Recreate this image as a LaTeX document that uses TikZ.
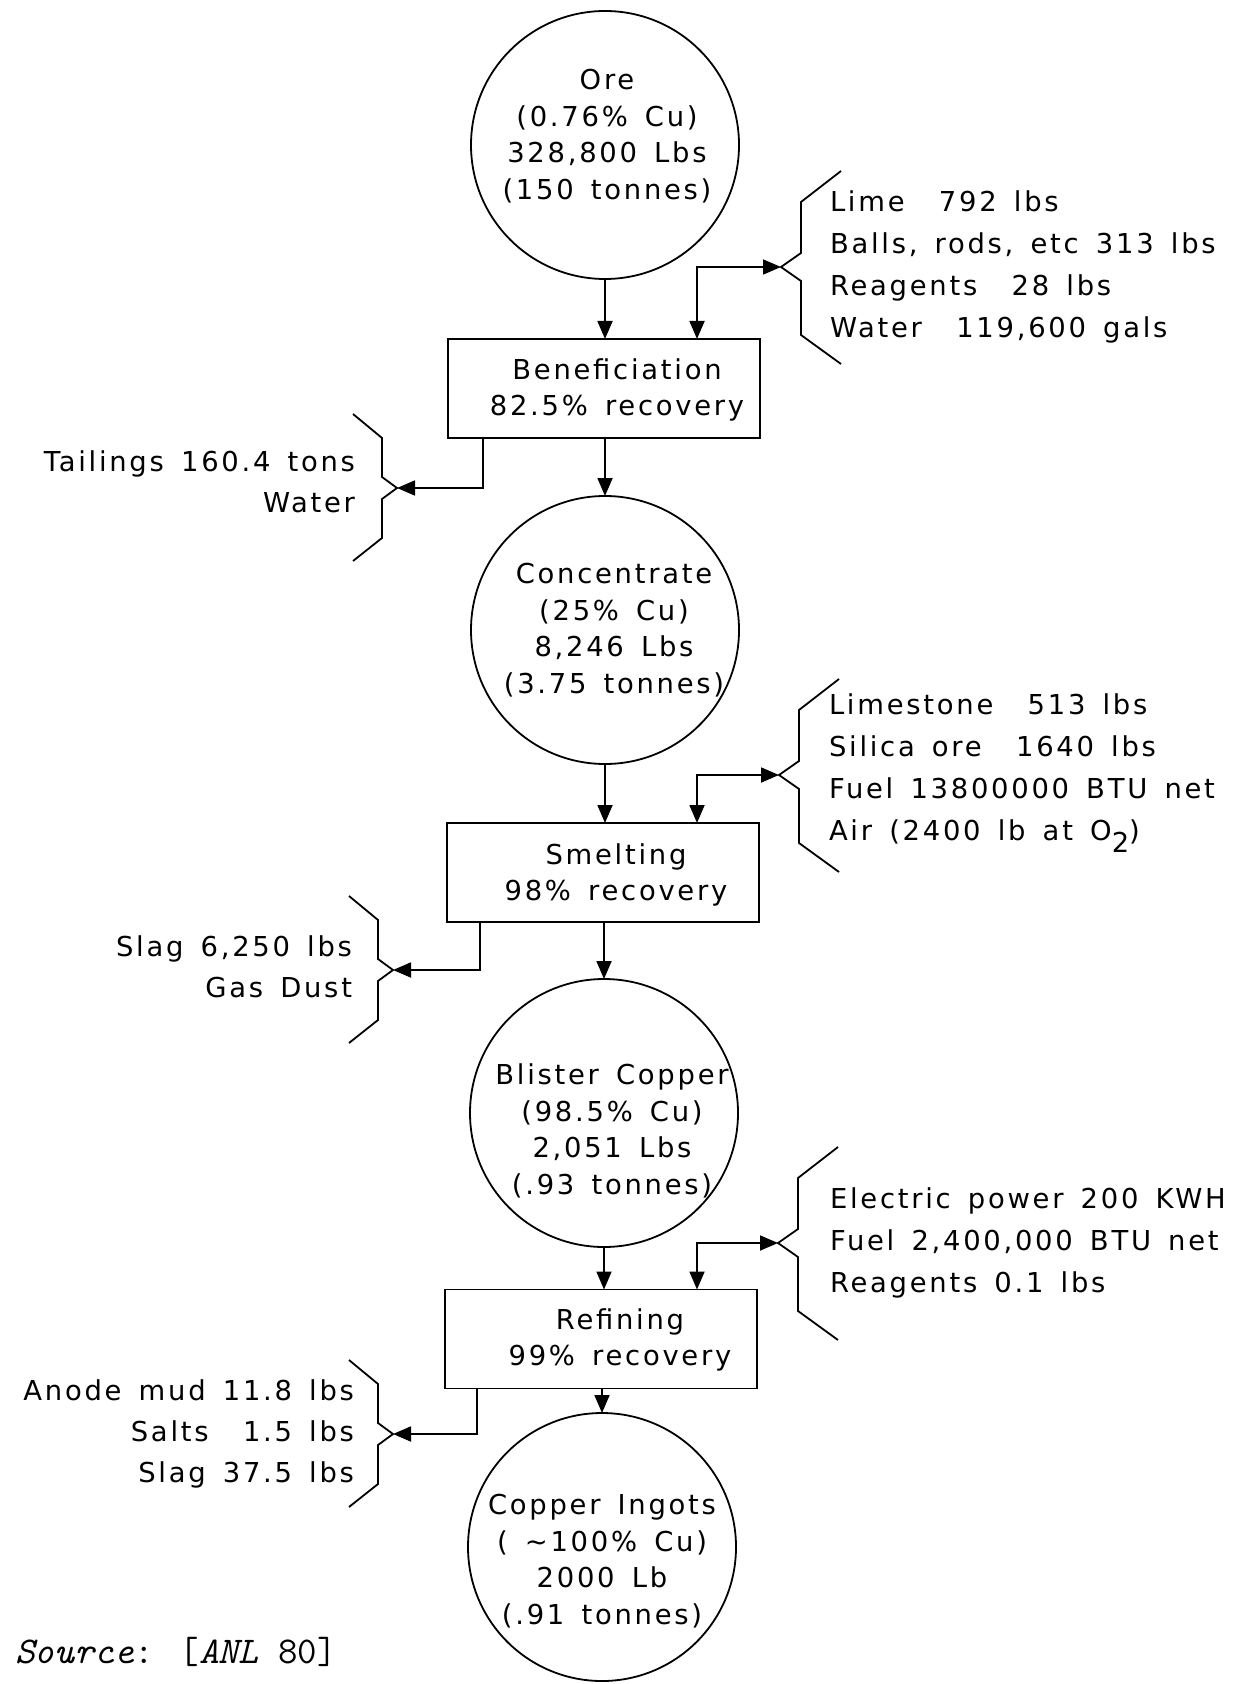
\documentclass[tikz,border=0pt]{standalone}
\usepackage{fontspec}
\newfontfamily\plot[LetterSpace=10,WordSpace=1.5]{DejaVu Sans}
\usetikzlibrary{arrows.meta,calc}
\begin{document}
\begin{tikzpicture}[x=0.5pt,y=-0.5pt,
  every node/.style={inner sep=0pt,outer sep=0pt},
  ln/.style={line width=0.9pt},
  arr/.style={ln,-{Triangle[length=9pt,width=7.5pt]}},
  darr/.style={ln,{Triangle[length=9pt,width=7.5pt]}-{Triangle[length=9pt,width=7.5pt]}},
  proc/.style={draw,ln,rectangle,minimum width=156pt,minimum height=49.5pt},
  stock/.style={draw,ln,circle,minimum size=134pt},
  ctxt/.style={font=\plot\fontsize{13.7}{18.35}\selectfont,align=center},
  btxt/.style={font=\plot\fontsize{13.7}{17.75}\selectfont,align=center},
  rtxt/.style={font=\plot\fontsize{13.7}{21}\selectfont,align=left,anchor=west},
  ltxt/.style={font=\plot\fontsize{13.7}{20.5}\selectfont,align=right,anchor=east},
  rbrace/.pic={\draw[ln] (60,-96) -- (20,-65) -- (20,-14) -- (0,0) -- (20,14) -- (20,68) -- (60,97);},
  lbrace/.pic={\draw[ln] (-44,-74) -- (-15,-50) -- (-15,-11) -- (0,0) -- (-15,11) -- (-15,50) -- (-44,73);}
]
\useasboundingbox (0,0) rectangle (1238,1684);

% main column
\node[stock] (ore) at (605,145) {};
\node[ctxt] (oret) at (607,136) {Ore\\(0.76\% Cu)\\328,800 Lbs\\(150 tonnes)};
\node[proc] (ben) at (604,388.5) {};
\node[btxt] (bent) at (617,390) {Beneficiation\\82.5\% recovery};
\node[stock] (conc) at (605,630) {};
\node[ctxt] (conct) at (614,630) {Concentrate\\(25\% Cu)\\8,246 Lbs\\(3.75 tonnes)};
\node[proc] (sme) at (603,872.5) {};
\node[btxt] (smet) at (616,875) {Smelting\\98\% recovery};
\node[stock] (bli) at (604,1113) {};
\node[ctxt] (blit) at (612,1131) {Blister Copper\\(98.5\% Cu)\\2,051 Lbs\\(.93 tonnes)};
\node[proc] (ref) at (601,1339) {};
\node[btxt] (reft) at (620,1340) {Refining\\99\% recovery};
\node[stock] (ing) at (602,1547) {};
\node[ctxt] (ingt) at (602,1561) {Copper Ingots\\( \textasciitilde100\% Cu)\\2000 Lb\\(.91 tonnes)};

\draw[arr] (ore.south) -- (ore.south |- ben.north);
\draw[arr] (conc.north |- ben.south) -- (conc.north);
\draw[arr] (conc.south) -- (conc.south |- sme.north);
\draw[arr] (bli.north |- sme.south) -- (bli.north);
\draw[arr] (bli.south) -- (bli.south |- ref.north);
\draw[arr] (ing.north |- ref.south) -- (ing.north);

% inputs
\coordinate (tipA) at (781,267);
\coordinate (tipB) at (779,775);
\coordinate (tipC) at (778,1243);
\coordinate (colIn) at (697,0);
\pic at (tipA) {rbrace};
\pic at (tipB) {rbrace};
\pic at (tipC) {rbrace};
\draw[darr] (tipA) -| (ben.north -| colIn);
\draw[darr] (tipB) -| (sme.north -| colIn);
\draw[darr] (tipC) -| (ref.north -| colIn);
\node[rtxt] (inA) at (830,267) {Lime~~792 lbs\\Balls, rods, etc 313 lbs\\Reagents~~28 lbs\\Water~~119,600 gals};
\node[rtxt] (inB) at (829,773) {Limestone~~513 lbs\\Silica ore~~1640 lbs\\Fuel 13800000 BTU net\\Air (2400 lb at O\raisebox{-6pt}{2})};
\node[rtxt] (inC) at (830,1243) {Electric power 200 KWH\\Fuel 2,400,000 BTU net\\Reagents 0.1 lbs};

% outputs
\coordinate (outA) at (397,488);
\coordinate (outB) at (393,970);
\coordinate (outC) at (393,1434);
\coordinate (colA) at (483,0);
\coordinate (colB) at (480,0);
\coordinate (colC) at (477,0);
\pic at (outA) {lbrace};
\pic at (outB) {lbrace};
\pic at (outC) {lbrace};
\draw[arr] (ben.south -| colA) |- (outA);
\draw[arr] (sme.south -| colB) |- (outB);
\draw[arr] (ref.south -| colC) |- (outC);
\node[ltxt] (outAt) at (355,482) {Tailings 160.4 tons\\Water};
\node[ltxt] (outBt) at (352,967) {Slag 6,250 lbs\\Gas Dust};
\node[ltxt] (outCt) at (354,1434) {Anode mud 11.8 lbs\\Salts~~1.5 lbs\\Slag 37.5 lbs};

\node[anchor=west] (src) at (15,1652) {\ttfamily\fontsize{18.9}{20}\selectfont\textit{Source}: [\textit{ANL} 80]};
\end{tikzpicture}
\end{document}
